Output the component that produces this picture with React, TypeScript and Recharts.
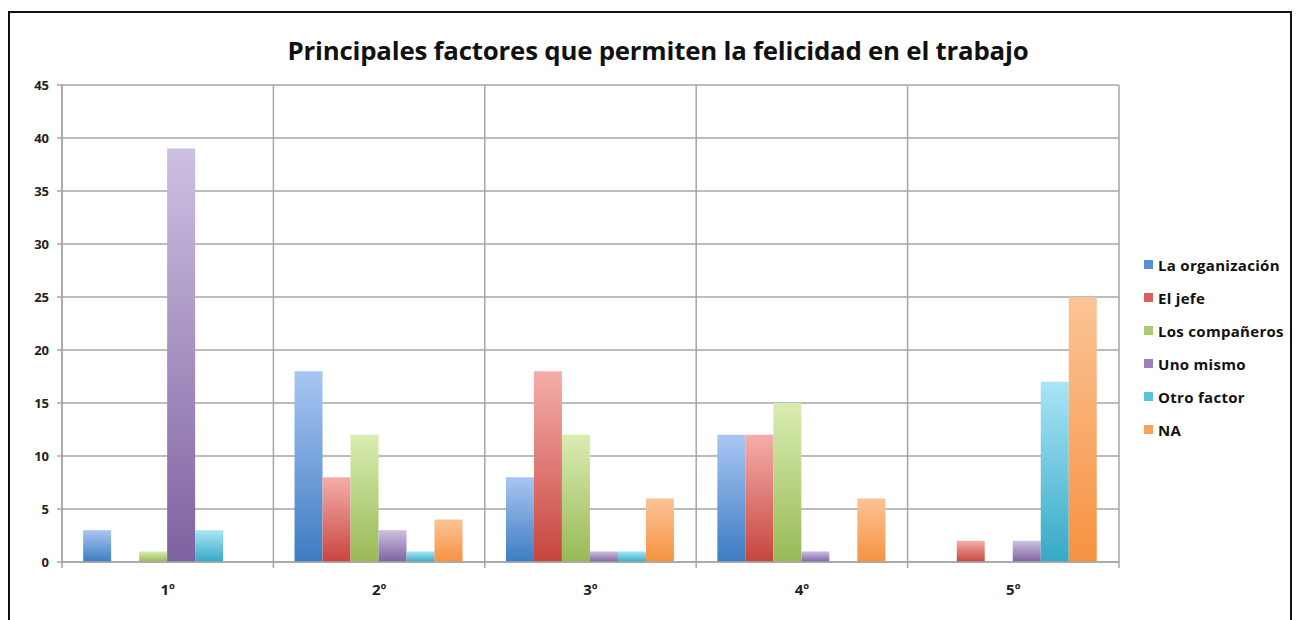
import React from 'react'
import { Bar, BarChart, CartesianGrid, XAxis, YAxis } from 'recharts'

// Puestos (1º..5º) y recuento de respuestas por factor
const puestos = ['1º', '2º', '3º', '4º', '5º']
const organizacion = [3, 18, 8, 12, 0]
const jefe = [0, 8, 18, 12, 2]
const companeros = [1, 12, 12, 15, 0]
const unoMismo = [39, 3, 1, 1, 2]
const otroFactor = [3, 1, 1, 0, 17]
const na = [0, 4, 6, 6, 25]
const yTicks = [0, 5, 10, 15, 20, 25, 30, 35, 40, 45]

const series = [
  { key: 'org', name: 'La organización', values: organizacion, top: '#a9c6f2', bottom: '#3d7cc2', swatch: '#5a8fd3' },
  { key: 'jefe', name: 'El jefe', values: jefe, top: '#f5aeaa', bottom: '#c6453d', swatch: '#d9615a' },
  { key: 'comp', name: 'Los compañeros', values: companeros, top: '#d9edb2', bottom: '#98b955', swatch: '#a9cb72' },
  { key: 'uno', name: 'Uno mismo', values: unoMismo, top: '#cdc0e2', bottom: '#7e62a0', swatch: '#9a80bd' },
  { key: 'otro', name: 'Otro factor', values: otroFactor, top: '#a9e5f6', bottom: '#35a9c6', swatch: '#5ec2dc' },
  { key: 'na', name: 'NA', values: na, top: '#fbc496', bottom: '#f69240', swatch: '#f9a25e' },
]

const data = puestos.map((p, i) => {
  const row: Record<string, string | number> = { puesto: p }
  series.forEach((s) => {
    row[s.key] = s.values[i]
  })
  return row
})

const FONT = '"Open Sans", "Noto Sans", sans-serif'
const GRID = '#a6a6a6'

function XTick(props: any) {
  const { x, y, payload, index, width } = props
  const band = width / puestos.length
  const left = x - band / 2
  return (
    <g>
      <line x1={left} x2={left} y1={y - 8} y2={y - 2} stroke={GRID} strokeWidth={1.5} />
      {index === puestos.length - 1 && (
        <line x1={left + band} x2={left + band} y1={y - 8} y2={y - 2} stroke={GRID} strokeWidth={1.5} />
      )}
      <text x={x} y={y + 25} textAnchor="middle" fontFamily={FONT} fontWeight={700} fontSize={15} fill="#222">
        {payload.value}
      </text>
    </g>
  )
}

function LegendBox() {
  return (
    <div
      style={{
        position: 'absolute',
        left: 1144,
        top: 248,
        fontFamily: FONT,
        fontWeight: 700,
        fontSize: 15,
        letterSpacing: 0.3,
        color: '#111',
      }}
    >
      {series.map((s) => (
        <div key={s.key} style={{ display: 'flex', alignItems: 'center', height: 33 }}>
          <span style={{ width: 9, height: 9, background: s.swatch, marginRight: 5, display: 'inline-block' }} />
          {s.name}
        </div>
      ))}
    </div>
  )
}

export default function App() {
  return (
    <div style={{ position: 'absolute', left: 0, top: 0, width: 1298, height: 620, overflow: 'hidden', background: '#fff' }}>
      <div
        style={{
          position: 'absolute',
          left: 8,
          top: 11,
          width: 1280,
          height: 640,
          border: '2px solid #111',
        }}
      />
      <div
        style={{
          position: 'absolute',
          left: 0,
          top: 32,
          width: 1316,
          textAlign: 'center',
          fontFamily: FONT,
          fontWeight: 700,
          fontSize: 25.8,
          letterSpacing: -0.2,
          color: '#111',
        }}
      >
        Principales factores que permiten la felicidad en el trabajo
      </div>
      <div style={{ position: 'absolute', left: 0, top: 0 }}>
        <BarChart
          width={1298}
          height={620}
          data={data}
          margin={{ top: 85, right: 179, left: 20, bottom: 28 }}
          barCategoryGap="10%"
          barGap={0}
        >
          <defs>
            {series.map((s) => (
              <linearGradient key={s.key} id={`grad-${s.key}`} x1="0" y1="0" x2="0" y2="1">
                <stop offset="0%" stopColor={s.top} />
                <stop offset="100%" stopColor={s.bottom} />
              </linearGradient>
            ))}
          </defs>
          <CartesianGrid
            stroke={GRID}
            strokeWidth={1.5}
            verticalCoordinatesGenerator={({ offset }: any) =>
              puestos.map((_, i) => offset.left + (i * offset.width) / puestos.length).concat(offset.left + offset.width)
            }
          />
          <XAxis
            dataKey="puesto"
            height={30}
            axisLine={{ stroke: GRID, strokeWidth: 1.5 }}
            tickLine={false}
            tick={<XTick />}
            interval={0}
          />
          <YAxis
            domain={[0, 45]}
            ticks={yTicks}
            width={42}
            axisLine={{ stroke: GRID, strokeWidth: 1.5 }}
            tickLine={{ stroke: GRID, strokeWidth: 1.5 }}
            tickSize={5}
            tickMargin={8}
            tick={{ fontFamily: FONT, fontWeight: 700, fontSize: 13, fill: '#222' }}
          />
          {series.map((s) => (
            <Bar key={s.key} dataKey={s.key} name={s.name} fill={`url(#grad-${s.key})`} isAnimationActive={false} />
          ))}
        </BarChart>
      </div>
      <LegendBox />
    </div>
  )
}
